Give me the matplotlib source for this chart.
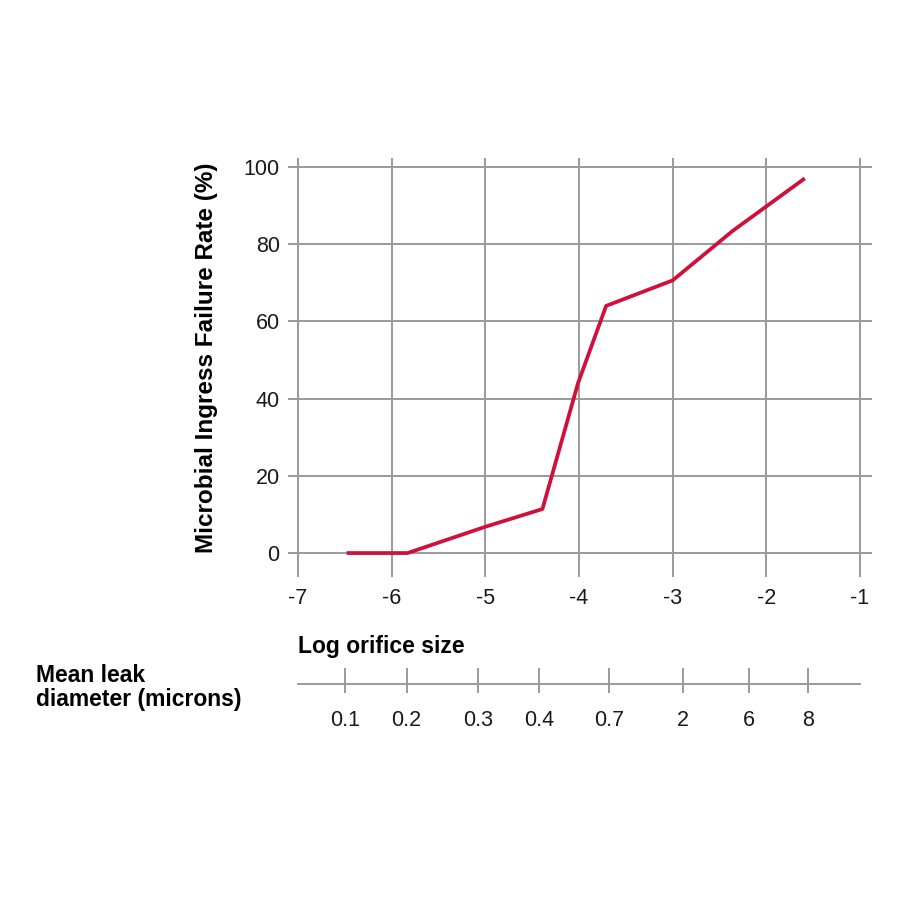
import matplotlib.pyplot as plt

plt.rcParams['font.family'] = ['Liberation Sans', 'DejaVu Sans']

# curve
log_size = [-6.48, -5.83, -5.0, -4.39, -4.01, -3.71, -3.0, -2.36, -1.59]
fail_rate = [0.0, 0.0, 6.8, 11.4, 44.0, 64.0, 70.6, 83.4, 97.0]

x_ticks = [-7, -6, -5, -4, -3, -2, -1]
y_ticks = [0, 20, 40, 60, 80, 100]

# secondary scale: mean leak diameter
leak_pos = [-6.50, -5.84, -5.08, -4.43, -3.68, -2.89, -2.19, -1.55]
leak_labels = ['0.1', '0.2', '0.3', '0.4', '0.7', '2', '6', '8']

red = '#d0103a'
grey = '#9a9a9a'
txt = '#1a1a1a'

fig = plt.figure(figsize=(9, 9), dpi=100)
ax = fig.add_axes([0.32, 0.3589, 0.6489, 0.4656])
ax.set_xlim(-7.106, -0.872)
ax.set_ylim(-6.2, 102.3)
for v in x_ticks:
    ax.axvline(v, color=grey, lw=1.4, zorder=1)
for h in y_ticks:
    ax.axhline(h, color=grey, lw=1.4, zorder=1)
ax.plot(log_size, fail_rate, color=red, lw=2.7, zorder=3,
        solid_capstyle='butt', solid_joinstyle='round')

ax.set_xticks(x_ticks)
ax.set_xticklabels([f'-{abs(v)}' for v in x_ticks])
ax.set_yticks(y_ticks)
ax.tick_params(length=0, labelsize=15.5, colors=txt)
ax.tick_params(axis='x', pad=8)
ax.tick_params(axis='y', pad=6)
for s in ax.spines.values():
    s.set_visible(False)
fig.text(207 / 900, 1 - 358 / 900, 'Microbial Ingress Failure Rate (%)',
         fontsize=17.5, fontweight='bold', rotation=90, ha='center', va='center')

# second scale below
ax2 = fig.add_axes([0.32, 1 - 705 / 900, 0.6489, 40 / 900])
ax2.set_xlim(-7.106, -0.872)
ax2.set_ylim(0, 1)
ax2.axis('off')
ax2.plot([-7, -1], [0.525, 0.525], color=grey, lw=1.4)
ax2.vlines(leak_pos, 0.3, 0.925, color=grey, lw=1.4)
for p, lab in zip(leak_pos, leak_labels):
    ax2.text(p, -0.375, lab, ha='center', va='center', fontsize=15.5, color=txt)

fig.text(298 / 900, 1 - 653 / 900, 'Log orifice size', fontsize=16.5,
         fontweight='bold', va='baseline', ha='left')
fig.text(36 / 900, 1 - 706 / 900, 'Mean leak\ndiameter (microns)', fontsize=16.5,
         fontweight='bold', va='baseline', ha='left', linespacing=1.05)

fig.savefig('out.png', dpi=100)
